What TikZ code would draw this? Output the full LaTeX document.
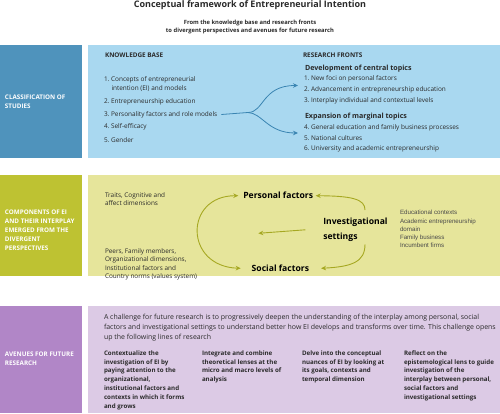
\documentclass[tikz,border=0pt]{standalone}
\usepackage{fontspec}
\setmainfont{Open Sans}
\newfontfamily\arialfont{Liberation Sans}
\usetikzlibrary{arrows.meta}
\definecolor{blueDark}{HTML}{4F93BC}
\definecolor{blueLight}{HTML}{A9D8F0}
\definecolor{blueArrow}{HTML}{3A85B2}
\definecolor{greenDark}{HTML}{BEC232}
\definecolor{greenLight}{HTML}{E6E59B}
\definecolor{greenArrow}{HTML}{A6A822}
\definecolor{purpleDark}{HTML}{B186C7}
\definecolor{purpleLight}{HTML}{DCCAE5}
\definecolor{txt}{HTML}{2A2A2A}
\begin{document}
\begin{tikzpicture}[x=1pt,y=-1pt,
    every node/.style={inner sep=0pt, outer sep=0pt},
    titletext/.style={text=txt, font=\fontsize{9}{11}\selectfont\bfseries},
    subtext/.style={align=center, text=txt, font=\fontsize{5.8}{8.5}\selectfont\bfseries},
    rowtitle/.style={anchor=north west, align=left, text=white, font=\fontsize{6.3}{9}\selectfont\bfseries},
    headtext/.style={anchor=west, text=txt, font=\fontsize{6.4}{9}\selectfont\bfseries},
    subhead/.style={anchor=west, text=txt, font=\fontsize{7.1}{9}\selectfont\bfseries},
    bodytext/.style={anchor=west, align=left, text=txt, font=\fontsize{6.45}{9.7}\selectfont},
    blocktext/.style={anchor=north west, align=left, text=txt, font=\fontsize{6.4}{8.6}\selectfont},
    factortext/.style={anchor=west, align=left, text=black, font=\fontsize{8.6}{15}\selectfont\bfseries},
    settingtext/.style={anchor=north west, align=left, text=txt!85, font=\arialfont\fontsize{6.2}{8.1}\selectfont},
    linetext/.style={anchor=north west, align=left, text=txt, font=\fontsize{6.2}{8.8}\selectfont\bfseries},
    blueflow/.style={draw=blueArrow, line width=0.8pt},
    greenflow/.style={draw=greenArrow, line width=0.9pt},
    arrowend/.style={-{Stealth[length=5pt,width=4.5pt]}}
  ]
  \useasboundingbox (0,0) rectangle (500,414);

  % bands
  \fill[blueDark] (0,45) rectangle (82,158);
  \fill[blueLight] (88,45) rectangle (500,158);
  \fill[greenDark] (0,175) rectangle (82,276);
  \fill[greenLight] (88,175) rectangle (500,276);
  \fill[purpleDark] (0,306) rectangle (82,413);
  \fill[purpleLight] (88,306) rectangle (500,413);

  \node[titletext] (title) at (250,5) {Conceptual framework of Entrepreneurial Intention};
  \node[subtext] (subtitle) at (250,27) {From the knowledge base and research fronts\\to divergent perspectives and avenues for future research};

  % row 1
  \node[rowtitle] (r1) at (5,95) {CLASSIFICATION OF\\STUDIES};
  \node[headtext] (kb) at (105,55) {KNOWLEDGE BASE};
  \node[bodytext] (kb1) at (104,84) {1.\ Concepts of entrepreneurial\\\hspace*{7.5pt}intention (EI) and models};
  \node[bodytext] (kb2) at (104,102) {2.\ Entrepreneurship education};
  \node[bodytext] (kb3) at (104,114.5) {3.\ Personality factors and role models};
  \node[bodytext] (kb4) at (104,127) {4.\ Self-efficacy};
  \node[bodytext] (kb5) at (104,140) {5.\ Gender};

  \node[headtext] (rf) at (303,55) {RESEARCH FRONTS};
  \node[subhead] (central) at (305,69) {Development of central topics};
  \node[bodytext] (rf1) at (304,79) {1.\ New foci on personal factors};
  \node[bodytext] (rf2) at (304,90) {2.\ Advancement in entrepreneurship education};
  \node[bodytext] (rf3) at (304,101) {3.\ Interplay individual and contextual levels};
  \node[subhead] (marginal) at (305,117) {Expansion of marginal topics};
  \node[bodytext] (rf4) at (304,128) {4.\ General education and family business processes};
  \node[bodytext] (rf5) at (304,138.5) {5.\ National cultures};
  \node[bodytext] (rf6) at (304,149) {6.\ University and academic entrepreneurship};

  \coordinate (fork) at (248,112.5);
  \coordinate (upend) at (298,85.5);
  \coordinate (downend) at (298,133);
  \draw[blueflow] ([xshift=4pt]kb3.east) -- (fork);
  \draw[blueflow, arrowend] (fork) .. controls (264,112.5) and (262,85.5) .. (upend);
  \draw[blueflow, arrowend] (fork) .. controls (262,113) and (268,133) .. (downend);

  % row 2
  \node[rowtitle] (r2) at (5,210) {COMPONENTS OF EI\\AND THEIR INTERPLAY\\EMERGED FROM THE\\DIVERGENT\\PERSPECTIVES};
  \node[blocktext] (traits) at (105,192.2) {Traits, Cognitive and\\affect dimensions};
  \node[blocktext] (peers) at (105,248.3) {Peers, Family members,\\Organizational dimensions,\\Institutional factors and\\Country norms (values system)};
  \node[factortext] (personal) at (243.3,195.7) {Personal factors};
  \node[factortext] (social) at (251.7,268.3) {Social factors};
  \node[factortext] (settings) at (323.3,229.8) {Investigational\\settings};
  \node[settingtext] (contexts) at (400,210.5) {Educational contexts\\Academic entrepreneurship\\domain\\Family business\\Incumbent firms};

  \coordinate (arcin) at (258.3,233.3);
  \coordinate (upstart) at (365,210);
  \coordinate (downstart) at (365,244.3);
  \draw[greenflow, {Stealth[length=5pt,width=4.5pt]}-{Stealth[length=5pt,width=4.5pt]}]
    ([xshift=-5pt]personal.west) .. controls (184,195.7) and (184,266.5) .. ([xshift=-11pt]social.west);
  \draw[greenflow, arrowend] ([xshift=-18pt]settings.west) -- (arcin);
  \draw[greenflow, arrowend] (upstart) .. controls (365,199) and (352,196) .. ([xshift=2.5pt]personal.east);
  \draw[greenflow, arrowend] (downstart) .. controls (365,262) and (352,266.7) .. ([xshift=12pt]social.east);

  % row 3
  \node[rowtitle] (r3) at (5,352) {AVENUES FOR FUTURE\\RESEARCH};
  \node[anchor=north west, align=left, text=txt, font=\fontsize{6.95}{10.2}\selectfont] (challenge) at (104,314)
    {A challenge for future research is to progressively deepen the understanding of the interplay among personal, social\\
     factors and investigational settings to understand better how EI develops and transforms over time. This challenge opens\\
     up the following lines of research};
  \node[linetext] (line1) at (104,350.5) {Contextualize the\\investigation of EI by\\paying attention to the\\organizational,\\institutional factors and\\contexts in which it forms\\and grows};
  \node[linetext] (line2) at (202,350.5) {Integrate and combine\\theoretical lenses at the\\micro and macro levels of\\analysis};
  \node[linetext] (line3) at (302,350.5) {Delve into the conceptual\\nuances of EI by looking at\\its goals, contexts and\\temporal dimension};
  \node[linetext] (line4) at (404,350.5) {Reflect on the\\epistemological lens to guide\\investigation of the\\interplay between personal,\\social factors and\\investigational settings};
\end{tikzpicture}
\end{document}
